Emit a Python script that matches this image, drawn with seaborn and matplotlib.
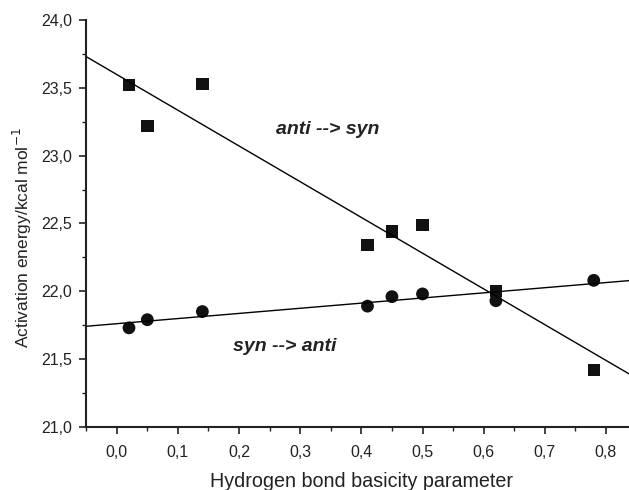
import matplotlib
matplotlib.use("Agg")
import matplotlib.pyplot as plt
import seaborn as sns
from matplotlib.ticker import FuncFormatter, MultipleLocator

# basicity parameter and activation energies
basicity = [0.02, 0.05, 0.14, 0.41, 0.45, 0.50, 0.62, 0.78]
anti_to_syn = [23.52, 23.22, 23.53, 22.34, 22.44, 22.49, 22.00, 21.42]
syn_to_anti = [21.73, 21.79, 21.85, 21.89, 21.96, 21.98, 21.93, 22.08]

sns.set_theme(style="ticks")
plt.rcParams["font.family"] = ["Liberation Sans", "DejaVu Sans"]

fig = plt.figure(figsize=(6.29, 4.9), dpi=100)
ax = fig.add_axes([0.137, 0.129, 0.875, 0.83])
# limits first, so the untruncated fit lines span the whole axis
ax.set_xlim(-0.05, 0.85)
ax.set_ylim(21.0, 24.0)

line_kws = {"color": "black", "lw": 1.0}
sns.regplot(x=basicity, y=anti_to_syn, ax=ax, ci=None, truncate=False, marker="s",
            scatter_kws={"s": 80, "color": "#111111", "edgecolor": "none", "alpha": 1},
            line_kws=line_kws)
sns.regplot(x=basicity, y=syn_to_anti, ax=ax, ci=None, truncate=False, marker="o",
            scatter_kws={"s": 85, "color": "#111111", "edgecolor": "none", "alpha": 1},
            line_kws=line_kws)
ax.set_xlim(-0.05, 0.85)
ax.set_ylim(21.0, 24.0)

comma = FuncFormatter(lambda v, p: f"{v:.1f}".replace(".", ","))
ax.xaxis.set_major_locator(MultipleLocator(0.1))
ax.xaxis.set_minor_locator(MultipleLocator(0.05))
ax.yaxis.set_major_locator(MultipleLocator(0.5))
ax.yaxis.set_minor_locator(MultipleLocator(0.25))
ax.xaxis.set_major_formatter(comma)
ax.yaxis.set_major_formatter(comma)
ax.tick_params(which="major", direction="out", length=5, width=1.2, labelsize=11.5,
               colors="#222222")
ax.tick_params(axis="x", which="major", pad=8)
ax.tick_params(axis="y", which="major", pad=5)
ax.tick_params(which="minor", direction="out", length=3, width=1.0, colors="#222222")

for side in ["top", "right"]:
    ax.spines[side].set_visible(False)
for side in ["left", "bottom"]:
    ax.spines[side].set_linewidth(1.5)
    ax.spines[side].set_color("#222222")

ax.set_xlabel("Hydrogen bond basicity parameter", fontsize=14.2, labelpad=9, color="#222222")
ax.set_ylabel("Activation energy/kcal mol$^{-1}$", fontsize=12.5, color="#222222")
ax.yaxis.set_label_coords(-0.094, 0.464)

ax.text(0.345, 23.19, "anti --> syn", fontsize=14, fontweight="bold", fontstyle="italic",
        ha="center", va="center", color="#222222")
ax.text(0.275, 21.59, "syn --> anti", fontsize=14, fontweight="bold", fontstyle="italic",
        ha="center", va="center", color="#222222")

fig.savefig("out.png", dpi=100)
